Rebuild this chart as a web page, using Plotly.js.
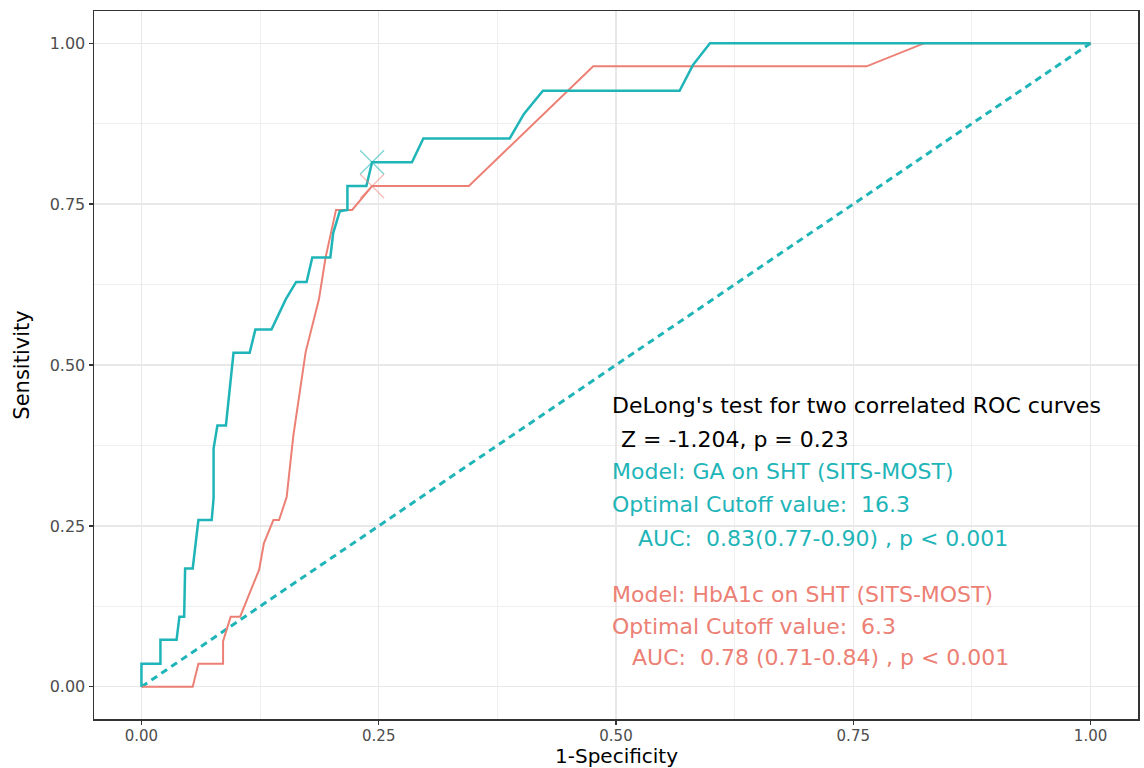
<!DOCTYPE html>
<html>
<head>
<meta charset="utf-8">
<script src="https://cdn.plot.ly/plotly-3.0.1.min.js"></script>
<style>html,body{margin:0;padding:0;background:#fff;}#chart{width:1144px;height:768px;}</style>
</head>
<body>
<div id="chart"></div>
<script>
// GA on SHT ROC curve (1-Specificity, Sensitivity)
const gaFPR  = [0, 0, 0.02, 0.02, 0.037, 0.04, 0.045, 0.046, 0.054, 0.06, 0.074, 0.076, 0.076, 0.08, 0.089, 0.097, 0.114, 0.12, 0.137, 0.152, 0.163, 0.174, 0.18, 0.199, 0.202, 0.209, 0.217, 0.217, 0.237, 0.243, 0.285, 0.297, 0.388, 0.403, 0.423, 0.567, 0.581, 0.599, 1.0];
const gaTPR  = [0, 0.036, 0.036, 0.073, 0.073, 0.109, 0.109, 0.184, 0.184, 0.259, 0.259, 0.293, 0.37, 0.406, 0.406, 0.519, 0.519, 0.555, 0.555, 0.602, 0.629, 0.629, 0.667, 0.667, 0.705, 0.739, 0.741, 0.778, 0.778, 0.815, 0.815, 0.852, 0.852, 0.89, 0.926, 0.926, 0.966, 1.0, 1.0];
// HbA1c on SHT ROC curve
const hbFPR  = [0, 0.054, 0.06, 0.086, 0.086, 0.094, 0.104, 0.115, 0.124, 0.129, 0.139, 0.145, 0.153, 0.16, 0.166, 0.173, 0.187, 0.194, 0.205, 0.222, 0.243, 0.345, 0.476, 0.764, 0.825, 1.0];
const hbTPR  = [0, 0, 0.036, 0.036, 0.071, 0.109, 0.109, 0.148, 0.182, 0.223, 0.259, 0.259, 0.295, 0.39, 0.447, 0.52, 0.602, 0.667, 0.741, 0.741, 0.778, 0.778, 0.964, 0.964, 1.0, 1.0];
// Optimal cutoff points
const gaOptimal = [0.243, 0.815];
const hbOptimal = [0.243, 0.778];
// Reference diagonal
const diagX = [0, 1];
const diagY = [0, 1];
// Axis ticks and titles
const tickVals = [0, 0.25, 0.5, 0.75, 1];
const tickText = ["0.00", "0.25", "0.50", "0.75", "1.00"];
const xTitle = "1-Specificity";
const yTitle = "Sensitivity";
// Annotation text
const testLines = ["DeLong's test for two correlated ROC curves", "Z = -1.204, p = 0.23"];
const gaLines = ["Model: GA on SHT (SITS-MOST)", "Optimal Cutoff value:\u00A0 16.3", "AUC:\u00A0 0.83(0.77-0.90) , p < 0.001"];
const hbLines = ["Model: HbA1c on SHT (SITS-MOST)", "Optimal Cutoff value:\u00A0 6.3", "AUC:\u00A0 0.78 (0.71-0.84) , p < 0.001"];

const TEAL = '#1fb5b8';
const RED = '#ec8075';
const FONT = 'DejaVu Sans, Verdana, sans-serif';

const traces = [
  {x: diagX, y: diagY, mode: 'lines', line: {color: TEAL, width: 3, dash: '7px,5px'}, hoverinfo: 'skip'},
  {x: hbFPR, y: hbTPR, mode: 'lines', line: {color: RED, width: 2}},
  {x: gaFPR, y: gaTPR, mode: 'lines', line: {color: TEAL, width: 2.5}},
  {x: [gaOptimal[0]], y: [gaOptimal[1]], mode: 'markers', marker: {symbol: 'x-thin-open', size: 24, color: TEAL, opacity: 0.6, line: {width: 1.2, color: TEAL}}},
  {x: [hbOptimal[0]], y: [hbOptimal[1]], mode: 'markers', marker: {symbol: 'x-thin-open', size: 24, color: RED, opacity: 0.6, line: {width: 1.2, color: RED}}}
];

// positions (data coords) for annotation lines
const lineY = [0.4365, 0.384, 0.334, 0.283, 0.231, 0.144, 0.094, 0.045];
const lineX = [0.496, 0.505, 0.496, 0.496, 0.523, 0.496, 0.496, 0.5165];
const texts = testLines.concat(gaLines, hbLines);
const colors = ['#000', '#000', TEAL, TEAL, TEAL, RED, RED, RED];
const annotations = texts.map((t, i) => ({
  x: lineX[i], y: lineY[i], xref: 'x', yref: 'y', text: t, showarrow: false,
  xanchor: 'left', yanchor: 'middle', xshift: -2,
  font: {family: FONT, size: 22, color: colors[i]}
}));
// x-axis title placed just below the tick labels
annotations.push({
  x: 0.5, y: -0.0523, xref: 'paper', yref: 'paper', text: xTitle, showarrow: false,
  xanchor: 'center', yanchor: 'middle', borderpad: 0,
  font: {family: FONT, size: 20, color: '#000'}
});

const axisCommon = {
  range: [-0.05, 1.05], tickvals: tickVals, ticktext: tickText,
  showgrid: true, gridcolor: '#e8e8e8', gridwidth: 1.2,
  minor: {dtick: 0.125, tick0: 0.125, showgrid: true, gridcolor: '#efefef', gridwidth: 1},
  zeroline: false, showline: true, mirror: true, linecolor: '#333333', linewidth: 1.5,
  ticks: 'outside', ticklen: 4, tickwidth: 1.2, tickcolor: '#333333',
  tickfont: {family: FONT, size: 15, color: '#4d4d4d'}, automargin: false, fixedrange: true
};

const layout = {
  width: 1144, height: 768,
  margin: {l: 93.5, r: 5.5, t: 10.7, b: 49},
  paper_bgcolor: '#fff', plot_bgcolor: '#fff', showlegend: false,
  xaxis: Object.assign({}, axisCommon, {ticklabelstandoff: -2}),
  yaxis: Object.assign({}, axisCommon, {tickfont: {family: FONT, size: 16, color: '#4d4d4d'}, title: {text: yTitle, font: {family: FONT, size: 21, color: '#000'}, standoff: 14}}),
  annotations: annotations
};

Plotly.newPlot('chart', traces, layout, {displayModeBar: false, staticPlot: true});
</script>
</body>
</html>
